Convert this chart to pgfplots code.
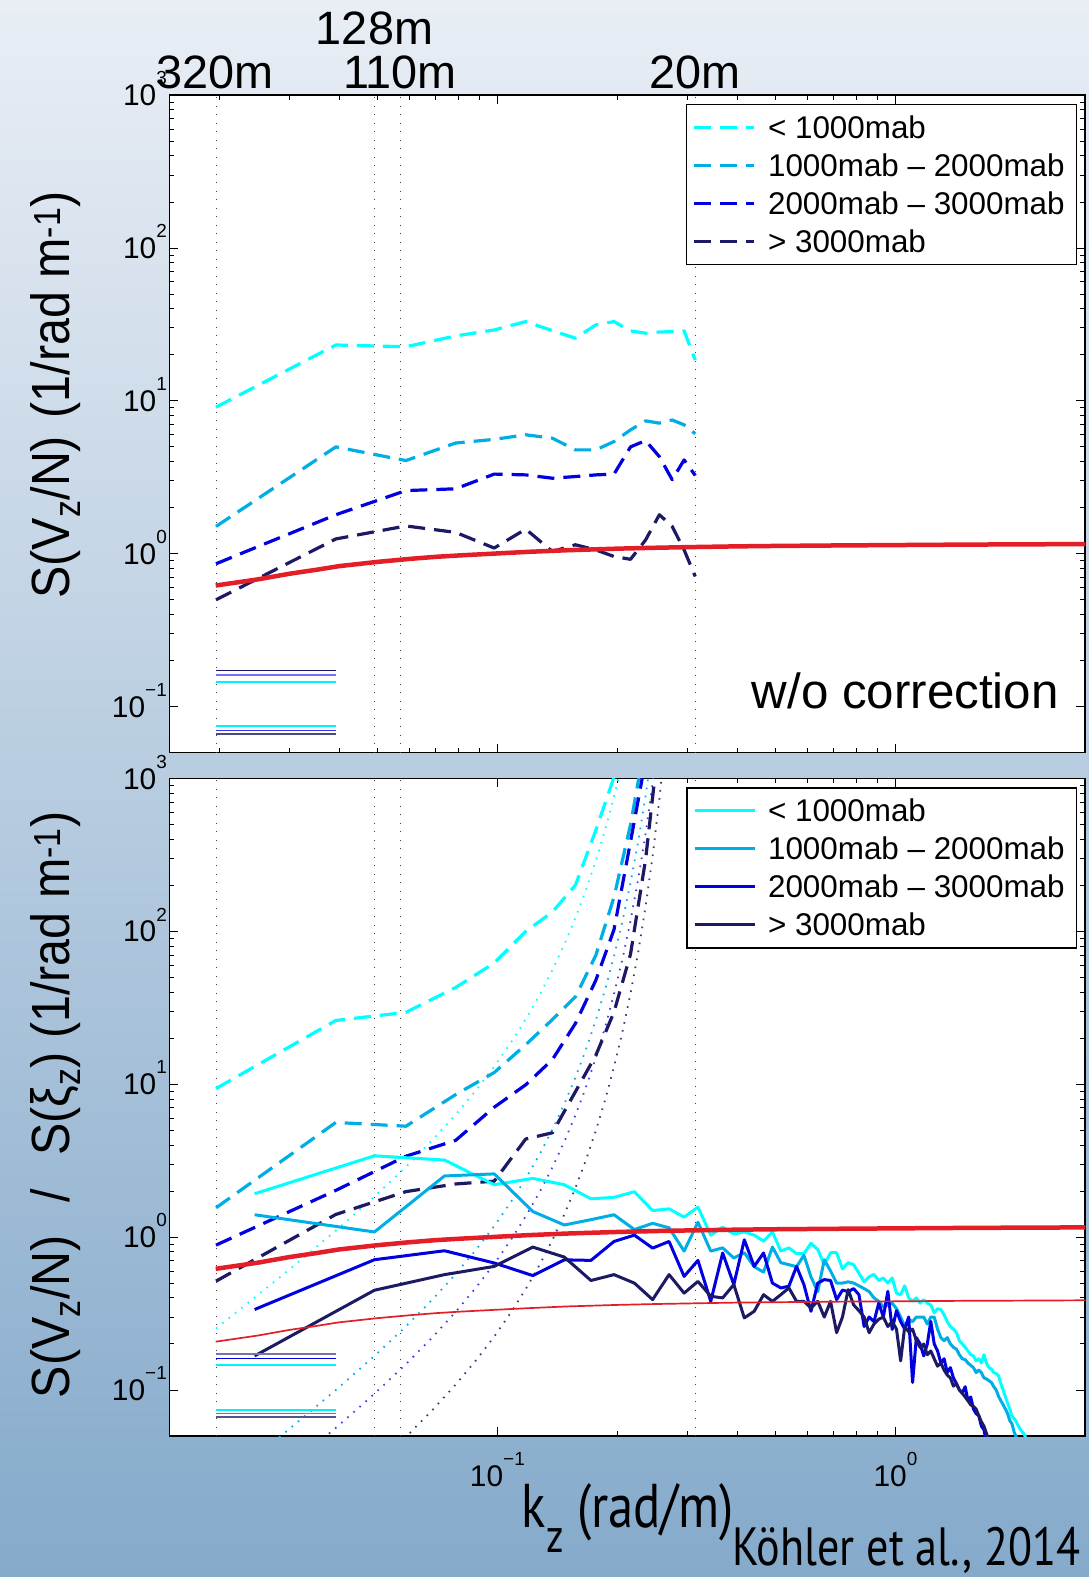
\documentclass[border=0pt]{standalone}
\usepackage{fontspec}
\setmainfont{Liberation Sans}
\newfontfamily\gill[FakeStretch=0.82]{PT Sans}
\newfontfamily\labfont[FakeStretch=0.9]{Liberation Sans}
\usepackage{pgfplots}
\usepackage{pgfplotstable}
\pgfplotsset{compat=1.18}

\definecolor{bgtop}{RGB}{233,238,245}
\definecolor{bgmid}{RGB}{180,200,220}
\definecolor{bgbot}{RGB}{133,170,203}
\definecolor{cyn}{RGB}{0,255,255}
\definecolor{dsk}{RGB}{0,174,230}
\definecolor{blu}{RGB}{0,0,225}
\definecolor{nvy}{RGB}{28,26,100}
\definecolor{rd}{RGB}{228,30,38}

% spectra without correction (k = n * 2pi/320)
\pgfplotstableread{
k        cy    ds    bl    nv
0.019635 9.1   1.51  0.86  0.50
0.03927  23.2  5.0   1.8   1.25
0.058905 22.6  4.07  2.59  1.52
0.07854  26.6  5.3   2.66  1.38
0.098175 29.1  5.6   3.32  1.09
0.11781  33.0  6.0   3.28  1.45
0.13744  28.8  5.7   3.12  1.035
0.15708  25.7  4.78  3.2   1.145
0.17671  31.4  4.78  3.28  1.06
0.19635  33.0  5.42  3.32  0.96
0.21598  28.7  6.46  5.0   0.92
0.23562  27.7  7.4   5.5   1.23
0.25525  28.2  7.15  4.32  1.80
0.27489  28.4  7.5   3.05  1.51
0.29452  28.7  6.97  4.11  1.06
0.31416  18.5  6.1   3.25  0.71
}\rawdash

% corrected spectra
\pgfplotstableread{
k        cy    ds    bl    nv
0.019635 9.37  1.555 0.886 0.515
0.03927  26.1  5.62  2.02  1.406
0.058905 29.5  5.31  3.38  1.983
0.07854  42.9  8.55  4.29  2.225
0.098175 62.0  11.92 7.07  2.321
0.11781  99.7  18.13 9.91  4.38
0.13744  133.7 26.46 14.48 4.81
0.15708  200.6 37.3  24.97 8.94
0.17671  457   69.6  47.8  15.44
0.19635  1019  167.4 102.6 29.65
0.21598  2209  497   384.9 70.8
0.23562  nan   1768  1314  293.8
0.25525  nan   nan   nan   1855
}\corrdash

% noise levels
\pgfplotstableread{
k        cy     ds     bl     nv
0.019635 0.2523 0.02286 0.01293 nan
0.029452 0.5887 0.05335 0.03018 nan
0.03927  1.102  0.09988 0.05651 nan
0.049087 1.841  0.1668  0.09439 0.03156
0.058905 2.876  0.2606  0.1475  0.04931
0.068722 4.319  0.3914  0.2214  0.07405
0.07854  6.321  0.5728  0.324   0.1084
0.088357 9.116  0.8261  0.4674  0.1563
0.098175 13.04  1.182   0.6686  0.2236
0.10799  18.62  1.688   0.9548  0.3193
0.11781  26.66  2.415   1.367   0.457
0.12763  38.37  3.477   1.967   0.6577
0.13744  55.74  5.051   2.857   0.9555
0.14726  81.95  7.426   4.201   1.405
0.15708  122.4  11.09   6.274   2.098
0.1669   186.1  16.86   9.539   3.19
0.17671  289.1  26.2    14.82   4.956
0.18653  460.8  41.76   23.63   7.9
0.19635  756.8  68.58   38.8    12.97
0.20617  1287   116.6   65.98   22.06
0.21598  2282   206.7   117     39.11
0.2258   nan    385.5   218.1   72.93
0.23562  nan    763.7   432.1   144.5
0.24544  nan    1636    925.5   309.5
0.25525  nan    nan     2188    731.5
0.26507  nan    nan     nan     1977
}\noise

% shear spectra (k = m * 2pi/256)
\pgfplotstableread{
k        cy    ds    bl    nv
0.024544 1.92  1.40  0.336 0.167
0.049087 3.40  1.08  0.711 0.449
0.073631 3.19  2.51  0.814 0.568
0.098175 2.20  2.59  0.677 0.643
0.12272  2.42  1.47  0.56  0.86
0.14726  2.20  1.20  0.71  0.74
0.17181  1.78  1.30  0.704 0.52
0.19635  1.82  1.40  0.936 0.568
0.22089  1.98  1.12  1.03  0.50
0.24544  1.49  1.23  0.847 0.39
0.26998  1.53  1.15  0.936 0.568
0.29452  1.35  0.81  0.553 0.43
0.31907  1.57  1.25  0.704 0.513
0.34361  1.03  0.81  0.38  0.41
0.36816  1.16  0.85  0.787 0.40
0.3927   1.05  0.73  0.489 0.489
0.41724  1.08  0.79  0.96  0.296
0.44179  1.03  0.64  0.643 0.327
0.46633  0.94  0.59  0.787 0.42
0.49087  1.08  0.86  0.50  0.38
0.51542  0.81  0.68  0.465 0.42
0.53996  0.85  0.66  0.477 0.465
0.5645   0.78  0.64  0.643 0.38
0.58905  0.78  0.76  0.489 0.38
0.61359  0.91  0.55  0.327 0.344
0.63814  0.83  0.44  0.50  0.38
0.66268  0.66  0.71  0.527 0.30
0.68722  0.79  0.60  0.52  0.38
0.71177  0.79  0.50  0.39  0.237
0.73631  0.62  0.50  0.45  0.30
0.76085  0.68  0.51  0.44  0.453
0.7854   0.66  0.50  0.46  0.36
0.80994  0.58  0.48  0.42  0.33
0.83449  0.51  0.46  0.26  0.30
0.85903  0.55  0.44  0.30  0.237
0.88357  0.57  0.40  0.28  0.27
0.90812  0.52  0.38  0.37  0.29
0.93266  0.54  0.35  0.30  0.30
0.9572   0.50  0.36  0.442 0.26
0.98175  0.54  0.37  0.249 0.28
1.0063   0.43  0.34  0.33  0.25
1.0308   0.42  0.30  0.28  0.155
1.0554   0.48  0.26  0.25  0.26
1.0799   0.40  0.29  0.30  0.24
1.1045   0.38  0.28  0.112 0.25
1.129    0.40  0.30  0.22  0.21
1.1536   0.37  0.30  0.20  0.19
1.1781   0.39  0.30  0.167 0.20
1.2026   0.37  0.27  0.20  0.17
1.2272   0.36  0.30  0.281 0.18
1.2517   0.32  0.30  0.20  0.16
1.2763   0.34  0.25  0.18  0.143
1.3008   0.336 0.22  0.15  0.15
1.3254   0.31  0.21  0.16  0.135
1.3499   0.28  0.22  0.13  0.125
1.3744   0.26  0.20  0.14  0.12
1.399    0.25  0.19  0.12  0.106
1.4235   0.237 0.185 0.11  0.11
1.4481   0.21  0.17  0.10  0.10
1.4726   0.20  0.16  0.096 0.095
1.4972   0.19  0.158 0.105 0.09
1.5217   0.18  0.15  0.085 0.085
1.5463   0.17  0.145 0.09  0.08
1.5708   0.167 0.14  0.075 0.078
1.5953   0.155 0.13  0.07  0.075
1.6199   0.16  0.135 0.068 0.068
1.6444   0.15  0.13  0.058 0.062
1.669    0.17  0.12  0.055 0.058
1.6935   0.15  0.118 0.045 0.052
1.7181   0.14  0.115 nan   0.046
1.7426   0.137 0.112 nan   nan
1.7671   0.13  0.105 nan   nan
1.7917   0.128 0.10  nan   nan
1.8162   0.124 0.091 nan   nan
1.8408   0.11  0.085 nan   nan
1.8653   0.10  0.08  nan   nan
1.8899   0.09  0.075 nan   nan
1.9144   0.082 0.07  nan   nan
1.9389   0.075 0.063 nan   nan
1.9635   0.067 0.06  nan   nan
1.988    0.065 0.053 nan   nan
2.0126   0.062 0.049 nan   nan
2.0371   0.058 0.046 nan   nan
2.0617   0.055 nan   nan   nan
2.0862   0.053 nan   nan   nan
2.1108   0.051 nan   nan   nan
2.1353   0.047 nan   nan   nan
}\shear

% model curve
\pgfplotstableread{
k      hi     lo
0.0196 0.62   0.207
0.025  0.68   0.227
0.03   0.74   0.247
0.035  0.785  0.262
0.04   0.83   0.277
0.05   0.885  0.295
0.06   0.925  0.308
0.07   0.955  0.318
0.08   0.975  0.325
0.1    1.005  0.335
0.12   1.03   0.343
0.15   1.055  0.352
0.2    1.08   0.36
0.25   1.095  0.365
0.3    1.105  0.368
0.4    1.118  0.373
0.5    1.125  0.375
0.7    1.133  0.378
1.0    1.14   0.38
1.5    1.148  0.383
2.0    1.152  0.384
3.0    1.157  0.386
}\model

% power-of-ten tick label with a raised small exponent
\newcommand\tl[1]{{\fontsize{30}{32}\selectfont 10\raisebox{0.7em}{\fontsize{19}{19}\selectfont #1}}}

% shared axis settings
\pgfplotsset{
  every axis/.append style={
    scale only axis, width=915.8bp, height=657.6bp,
    xmode=log, ymode=log,
    xmin=0.015, xmax=3, ymin=0.05, ymax=1000,
    axis background/.style={fill=white},
    axis line style={line width=1.6bp, black},
    tick align=inside,
    major tick length=9bp, minor tick length=5bp,
    every tick/.style={black, line width=0.9bp},
    yticklabel style={anchor=base east, inner sep=0pt, xshift=-2.5bp, yshift=-10.7bp},
    xticklabel style={anchor=north, inner sep=0pt, yshift=-16bp},
    ytick={0.1,1,10,100,1000},
    yticklabels={\tl{−1},\tl{0},\tl{1},\tl{2},\tl{3}},
  },
  legend cell align=left,
  legend image code/.code={\draw[#1] (0bp,0bp) -- (60bp,0bp);},
  legend style={at={(1,1)}, anchor=north east, xshift=-8bp, yshift=-9bp,
    font=\fontsize{31.5}{36}\selectfont, draw=black, line width=1.2bp, fill=white,
    inner xsep=6bp, inner ysep=4bp, column sep=6bp,
    nodes={inner xsep=6bp, inner ysep=5bp, text height=25bp, text depth=3bp}},
}
\tikzset{
  vline/.style={black!75, line width=1bp, dash pattern=on 1bp off 7.5bp},
  dsh/.style={line width=3.2bp, dash pattern=on 17bp off 9bp, line join=round},
  sld/.style={line width=3bp, line join=round},
  dtt/.style={line width=1.8bp, dash pattern=on 1.6bp off 6.5bp},
  hl/.style={line width=#1},
}

\begin{document}
\begin{tikzpicture}
\shade[top color=bgtop, middle color=bgmid, bottom color=bgbot] (0,0) rectangle (1089bp,1577bp);
\useasboundingbox (0,0) rectangle (1089bp,1577bp);

% ---------- upper panel ----------
\begin{axis}[at={(169.5bp,824.3bp)}, anchor=south west,
  xmode=log, ymode=log, xticklabels={}]
\addplot[vline, forget plot] coordinates {(0.019635,0.05) (0.019635,1000)};
\addplot[vline, forget plot] coordinates {(0.049087,0.05) (0.049087,1000)};
\addplot[vline, forget plot] coordinates {(0.057120,0.05) (0.057120,1000)};
\addplot[vline, forget plot] coordinates {(0.314159,0.05) (0.314159,1000)};
\addplot[dsh, cyn] table[x=k, y=cy] {\rawdash};
\addlegendentry{< 1000mab}
\addplot[dsh, dsk] table[x=k, y=ds] {\rawdash};
\addlegendentry{1000mab – 2000mab}
\addplot[dsh, blu] table[x=k, y=bl] {\rawdash};
\addlegendentry{2000mab – 3000mab}
\addplot[dsh, nvy] table[x=k, y=nv] {\rawdash};
\addlegendentry{> 3000mab}
\addplot[hl=1.2bp, nvy, forget plot] coordinates {(0.019635,0.173) (0.03927,0.173)};
\addplot[hl=2bp, blu!55!white, forget plot] coordinates {(0.019635,0.160) (0.03927,0.160)};
\addplot[hl=2bp, cyn!85!dsk, forget plot] coordinates {(0.019635,0.146) (0.03927,0.146)};
\addplot[hl=2bp, cyn!85!dsk, forget plot] coordinates {(0.019635,0.0745) (0.03927,0.0745)};
\addplot[hl=1.2bp, blu!80!white, forget plot] coordinates {(0.019635,0.0700) (0.03927,0.0700)};
\addplot[hl=1.5bp, nvy!80!white, forget plot] coordinates {(0.019635,0.0665) (0.03927,0.0665)};
\addplot[rd, line width=4.5bp, forget plot] table[x=k, y=hi] {\model};
\end{axis}

% ---------- lower panel ----------
\begin{axis}[at={(169.5bp,141bp)}, anchor=south west,
  xmode=log, ymode=log,
  xtick={0.1,1},
  xticklabels={\tl{−1},\tl{0}}]
\addplot[vline, forget plot] coordinates {(0.019635,0.05) (0.019635,1000)};
\addplot[vline, forget plot] coordinates {(0.049087,0.05) (0.049087,1000)};
\addplot[vline, forget plot] coordinates {(0.057120,0.05) (0.057120,1000)};
\addplot[vline, forget plot] coordinates {(0.314159,0.05) (0.314159,1000)};
\addplot[dtt, cyn, forget plot] table[x=k, y=cy] {\noise};
\addplot[dtt, dsk, forget plot] table[x=k, y=ds] {\noise};
\addplot[dtt, blu!75!white, forget plot] table[x=k, y=bl] {\noise};
\addplot[dtt, nvy!85!white, forget plot] table[x=k, y=nv] {\noise};
\addplot[dsh, cyn, forget plot] table[x=k, y=cy] {\corrdash};
\addplot[dsh, dsk, forget plot] table[x=k, y=ds] {\corrdash};
\addplot[dsh, blu, forget plot] table[x=k, y=bl] {\corrdash};
\addplot[dsh, nvy, forget plot] table[x=k, y=nv] {\corrdash};
\addplot[sld, cyn] table[x=k, y=cy] {\shear};
\addlegendentry{< 1000mab}
\addplot[sld, dsk] table[x=k, y=ds] {\shear};
\addlegendentry{1000mab – 2000mab}
\addplot[sld, blu] table[x=k, y=bl] {\shear};
\addlegendentry{2000mab – 3000mab}
\addplot[sld, nvy] table[x=k, y=nv] {\shear};
\addlegendentry{> 3000mab}
\addplot[hl=2bp, nvy!60!white, forget plot] coordinates {(0.019635,0.173) (0.03927,0.173)};
\addplot[hl=1.2bp, blu, forget plot] coordinates {(0.019635,0.160) (0.03927,0.160)};
\addplot[hl=2bp, cyn!85!dsk, forget plot] coordinates {(0.019635,0.146) (0.03927,0.146)};
\addplot[hl=2bp, cyn!85!dsk, forget plot] coordinates {(0.019635,0.0745) (0.03927,0.0745)};
\addplot[hl=1.5bp, blu!55!white, forget plot] coordinates {(0.019635,0.0700) (0.03927,0.0700)};
\addplot[hl=1.5bp, nvy!75!white, forget plot] coordinates {(0.019635,0.0665) (0.03927,0.0665)};
\addplot[rd, line width=1.7bp, forget plot] table[x=k, y=lo] {\model};
\addplot[rd, line width=4.5bp, forget plot] table[x=k, y=hi] {\model};
\end{axis}

% wavelength markers
\begin{scope}[font=\fontsize{47}{50}\selectfont]
\node[anchor=base, inner sep=0] at (215bp,1488.5bp) {320m};
\node[anchor=base, inner sep=0] at (374.5bp,1532bp) {128m};
\node[anchor=base, inner sep=0] at (400bp,1488.5bp) {110m};
\node[anchor=base, inner sep=0] at (695bp,1488.5bp) {20m};
\end{scope}

% axis labels
\node[rotate=90, anchor=base, inner sep=0, font=\labfont\fontsize{54}{56}\selectfont]
  at (69bp,1182bp) {S(V\textsubscript{z}/N)\hspace{4bp} (1/rad m\textsuperscript{-1})};
\node[rotate=90, anchor=base, inner sep=0, font=\labfont\fontsize{54}{56}\selectfont]
  at (69bp,472bp) {S(V\textsubscript{z}/N)\hspace{33bp}/\hspace{33bp}S(ξ\textsubscript{z}) (1/rad m\textsuperscript{-1})};
\node[anchor=base, inner sep=0, font=\gill\fontsize{62}{64}\selectfont]
  at (628bp,49bp) {k\raisebox{-0.4em}{\fontsize{48}{48}\selectfont z} (rad/m)};
\node[anchor=base east, inner sep=0, font=\fontsize{49.5}{52}\selectfont]
  at (1059bp,868bp) {w/o correction};
\node[anchor=base east, inner sep=0, font=\gill\fontsize{54}{56}\selectfont]
  at (1081bp,12bp) {Köhler et al., 2014};
\end{tikzpicture}
\end{document}
